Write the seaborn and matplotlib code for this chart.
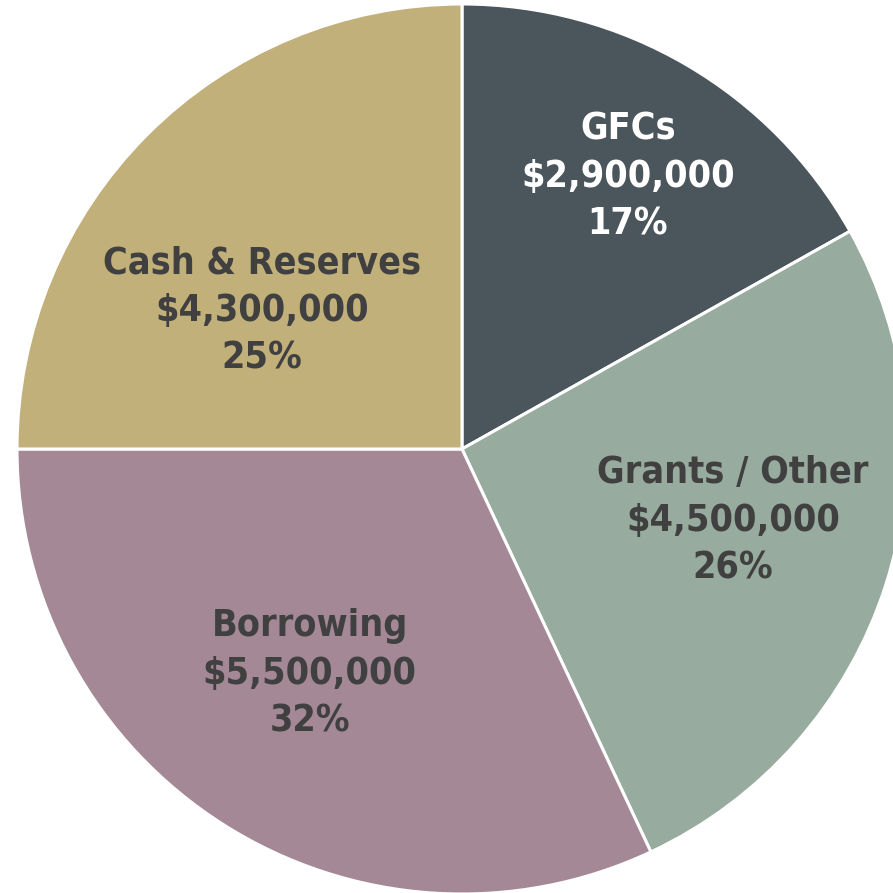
import matplotlib
matplotlib.use("Agg")
import matplotlib.pyplot as plt
import seaborn as sns

categories = ["GFCs", "Grants / Other", "Borrowing", "Cash & Reserves"]
amounts = [2900000, 4500000, 5500000, 4300000]
colors = ["#4b555c", "#97ab9e", "#a48896", "#c2b07a"]
text_colors = ["white", "#404040", "#404040", "#404040"]
# label positions (axes data units, pie radius = 1)
label_pos = [(0.373, 0.611), (0.609, -0.162), (-0.342, -0.505), (-0.449, 0.31)]

sns.set_theme(style="white")
plt.rcParams["font.family"] = ["Liberation Sans Narrow", "DejaVu Sans"]

fig = plt.figure(figsize=(8.93, 8.93), dpi=100)
r_px = 445
cx, cy = 462, 893 - 449
ax = fig.add_axes([(cx - r_px) / 893, (cy - r_px) / 893, 2 * r_px / 893, 2 * r_px / 893])

wedges, _ = ax.pie(amounts, colors=sns.color_palette(colors), startangle=90,
                   counterclock=False, radius=1,
                   wedgeprops=dict(edgecolor="white", linewidth=2.2))
for w in wedges:
    w.set_clip_on(False)
ax.set_xlim(-1, 1)
ax.set_ylim(-1, 1)
ax.axis("off")

total = sum(amounts)
for name, val, (x, y), tc in zip(categories, amounts, label_pos, text_colors):
    s = f"{name}\n${val:,.0f}\n{val / total * 100:.0f}%"
    ax.text(x, y, s, ha="center", va="center", fontsize=27, fontweight="bold",
            fontstretch="condensed", color=tc, linespacing=1.42)

fig.savefig("out.png", dpi=100)
